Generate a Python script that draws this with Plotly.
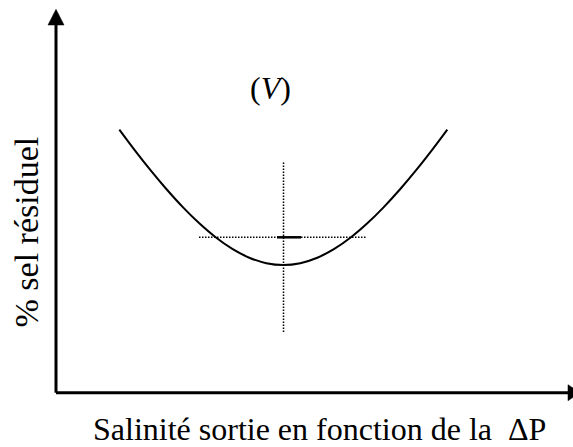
import plotly.graph_objects as go

# Residual salt curve (arbitrary units)
curve_x = [1.227, 1.517, 1.827, 2.138, 2.467, 2.777, 3.087, 3.417, 3.746, 4.076, 4.405,
           4.734, 5.064, 5.393, 5.723, 6.033, 6.343, 6.672, 6.983, 7.293, 7.583]
curve_y = [6.960, 6.431, 5.894, 5.389, 4.897, 4.481, 4.119, 3.804, 3.571, 3.427, 3.378,
           3.427, 3.571, 3.804, 4.119, 4.481, 4.897, 5.389, 5.894, 6.431, 6.960]

# Optimum markers
opt_x = 4.409
opt_y = 4.111
vline_y = [1.606, 6.098]
hline_x = [2.771, 6.027]
seg_x = [4.283, 4.748]

title_text = "(<i>V</i>)"
x_label = "Salinité sortie en fonction de la  ΔP"
y_label = "% sel résiduel"

W, H = 573, 447
X_RANGE = [-1.0853, 10.019]
Y_RANGE = [-1.4365, 10.389]

fig = go.Figure()

fig.add_trace(go.Scatter(x=curve_x, y=curve_y, mode="lines",
                         line=dict(color="black", width=2, shape="spline", smoothing=1.0),
                         hoverinfo="skip"))
fig.add_trace(go.Scatter(x=[opt_x, opt_x], y=vline_y, mode="lines",
                         line=dict(color="black", width=1.5, dash="1.5px,1.5px"),
                         hoverinfo="skip"))
fig.add_trace(go.Scatter(x=hline_x, y=[opt_y, opt_y], mode="lines",
                         line=dict(color="black", width=1.5, dash="1.5px,1.5px"),
                         hoverinfo="skip"))
fig.add_trace(go.Scatter(x=seg_x, y=[opt_y, opt_y], mode="lines",
                         line=dict(color="black", width=2.5),
                         hoverinfo="skip"))

# Axes drawn as arrows
axis_top = 9.8
axis_right = 9.95
fig.add_shape(type="line", x0=0, y0=0, x1=0, y1=axis_top, xref="x", yref="y",
              line=dict(color="black", width=3))
fig.add_shape(type="line", x0=0, y0=0, x1=axis_right, y1=0, xref="x", yref="y",
              line=dict(color="black", width=3))
fig.add_shape(type="path", xref="x", yref="y",
              path="M -0.155 9.728 L 0 10.143 L 0.155 9.728 Z",
              fillcolor="black", line=dict(color="black", width=0.5))
fig.add_shape(type="path", xref="x", yref="y",
              path="M 9.922 0.212 L 10.155 0 L 9.922 -0.212 Z",
              fillcolor="black", line=dict(color="black", width=0.5))

font = dict(family="Liberation Serif, Times New Roman, serif", color="black")
fig.add_annotation(x=4.157, y=8.061, text=title_text, showarrow=False,
                   font=dict(size=32, **font), xanchor="center", yanchor="middle")
fig.add_annotation(x=5.097, y=-0.97, text=x_label, showarrow=False,
                   font=dict(size=32, **font), xanchor="center", yanchor="middle")
fig.add_annotation(x=-0.562, y=4.238, text=y_label, showarrow=False, textangle=-90,
                   font=dict(size=34, **font), xanchor="center", yanchor="middle")

fig.update_layout(width=W, height=H, margin=dict(l=0, r=0, t=0, b=0),
                  plot_bgcolor="white", paper_bgcolor="white", showlegend=False,
                  xaxis=dict(range=X_RANGE, visible=False, fixedrange=True),
                  yaxis=dict(range=Y_RANGE, visible=False, fixedrange=True))

fig.write_html("out.html", config={"displayModeBar": False})
